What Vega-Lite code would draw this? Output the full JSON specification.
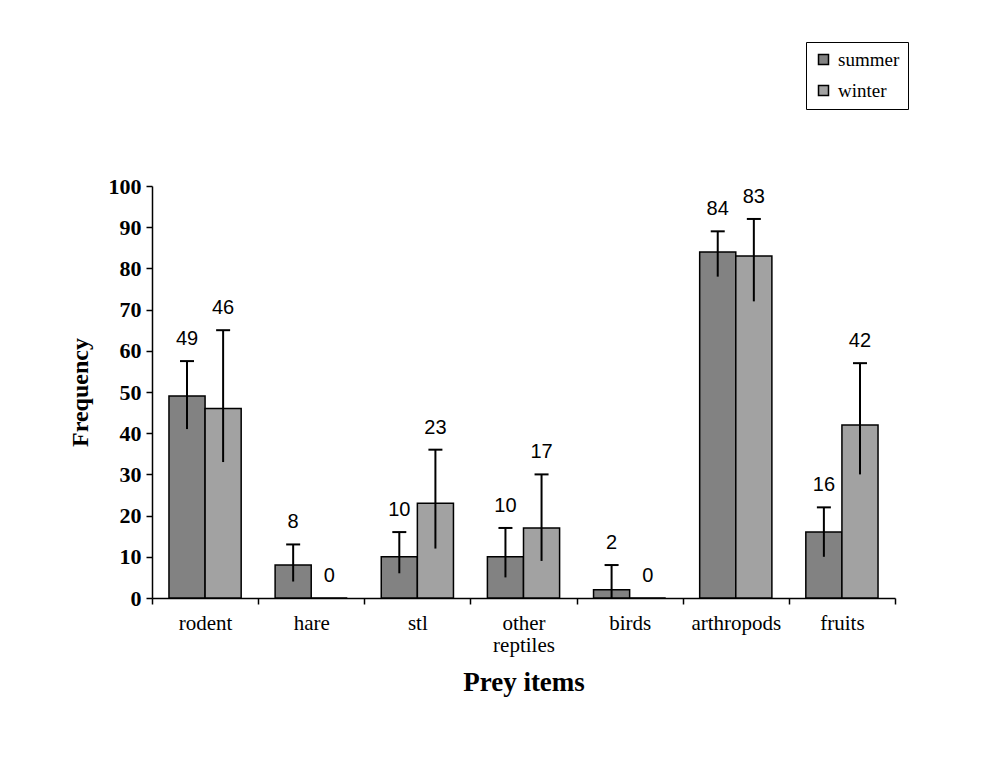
{
  "$schema": "https://vega.github.io/schema/vega-lite/v6.json",
  "width": 743,
  "height": 412,
  "autosize": "none",
  "padding": {"left": 152, "top": 186, "right": 93, "bottom": 160},
  "background": "white",
  "config": {"view": {"stroke": null}},
  "data": {
    "values": [
      {"item": "rodent", "season": "summer", "value": 49, "lo": 41, "hi": 57.5},
      {"item": "rodent", "season": "winter", "value": 46, "lo": 33, "hi": 65},
      {"item": "hare", "season": "summer", "value": 8, "lo": 4, "hi": 13},
      {"item": "hare", "season": "winter", "value": 0, "lo": 0, "hi": 0},
      {"item": "stl", "season": "summer", "value": 10, "lo": 6, "hi": 16},
      {"item": "stl", "season": "winter", "value": 23, "lo": 12, "hi": 36},
      {"item": "other reptiles", "season": "summer", "value": 10, "lo": 5, "hi": 17},
      {"item": "other reptiles", "season": "winter", "value": 17, "lo": 9, "hi": 30},
      {"item": "birds", "season": "summer", "value": 2, "lo": 0, "hi": 8},
      {"item": "birds", "season": "winter", "value": 0, "lo": 0, "hi": 0},
      {"item": "arthropods", "season": "summer", "value": 84, "lo": 78, "hi": 89},
      {"item": "arthropods", "season": "winter", "value": 83, "lo": 72, "hi": 92},
      {"item": "fruits", "season": "summer", "value": 16, "lo": 10, "hi": 22},
      {"item": "fruits", "season": "winter", "value": 42, "lo": 30, "hi": 57}
    ]
  },
  "encoding": {
    "x": {
      "field": "item",
      "type": "nominal",
      "sort": ["rodent", "hare", "stl", "other reptiles", "birds", "arthropods", "fruits"],
      "scale": {"paddingInner": 0, "paddingOuter": 0},
      "title": "Prey items",
      "axis": {
        "labelAngle": 0,
        "labelFont": "Liberation Serif",
        "labelFontSize": 21,
        "labelColor": "black",
        "labelPadding": 8,
        "labelLineHeight": 22,
        "labelExpr": "datum.label == 'other reptiles' ? ['other', 'reptiles'] : datum.label",
        "labelBaseline": "top",
        "tickBand": "extent",
        "tickColor": "black",
        "tickSize": 6,
        "tickWidth": 1.5,
        "domainColor": "black",
        "domainWidth": 1.5,
        "titleFont": "Liberation Serif",
        "titleFontSize": 27,
        "titleFontWeight": "bold",
        "titleColor": "black",
        "titlePadding": 14
      }
    },
    "xOffset": {
      "field": "season",
      "type": "nominal",
      "sort": ["summer", "winter"],
      "scale": {"paddingInner": 0, "paddingOuter": 0.47}
    }
  },
  "layer": [
    {
      "mark": {"type": "bar", "stroke": "black", "strokeWidth": 1.5},
      "encoding": {
        "y": {
          "field": "value",
          "type": "quantitative",
          "scale": {"domain": [0, 100]},
          "title": "Frequency",
          "axis": {
            "values": [0, 10, 20, 30, 40, 50, 60, 70, 80, 90, 100],
            "grid": false,
            "labelFont": "Liberation Serif",
            "labelFontSize": 22,
            "labelFontWeight": "bold",
            "labelColor": "black",
            "labelPadding": 5,
            "tickColor": "black",
            "tickSize": 6,
            "tickWidth": 1.5,
            "domainColor": "black",
            "domainWidth": 1.5,
            "titleFont": "Liberation Serif",
            "titleFontSize": 24,
            "titleFontWeight": "bold",
            "titleColor": "black",
            "titlePadding": 16
          }
        },
        "fill": {
          "field": "season",
          "type": "nominal",
          "scale": {"domain": ["summer", "winter"], "range": ["#828282", "#a2a2a2"]},
          "legend": {
            "orient": "none",
            "legendX": 654,
            "legendY": -144,
            "title": null,
            "symbolType": "square",
            "symbolSize": 100,
            "symbolStrokeColor": "black",
            "symbolStrokeWidth": 1.5,
            "labelFont": "Liberation Serif",
            "labelFontSize": 19,
            "labelColor": "black",
            "labelOffset": 5,
            "strokeColor": "black",
            "fillColor": "white",
            "padding": 8,
            "rowPadding": 11
          }
        }
      }
    },
    {
      "transform": [{"filter": "datum.hi > datum.value"}],
      "mark": {"type": "rule", "stroke": "black", "strokeWidth": 2},
      "encoding": {
        "y": {"field": "lo", "type": "quantitative"},
        "y2": {"field": "hi"}
      }
    },
    {
      "transform": [{"filter": "datum.hi > datum.value"}],
      "mark": {"type": "tick", "color": "black", "thickness": 2, "size": 14, "opacity": 1},
      "encoding": {
        "y": {"field": "hi", "type": "quantitative"}
      }
    },
    {
      "mark": {"type": "text", "font": "Liberation Sans", "fontSize": 20, "dy": -22, "color": "black"},
      "encoding": {
        "y": {"field": "hi", "type": "quantitative"},
        "text": {"field": "value", "type": "quantitative"}
      }
    }
  ]
}
